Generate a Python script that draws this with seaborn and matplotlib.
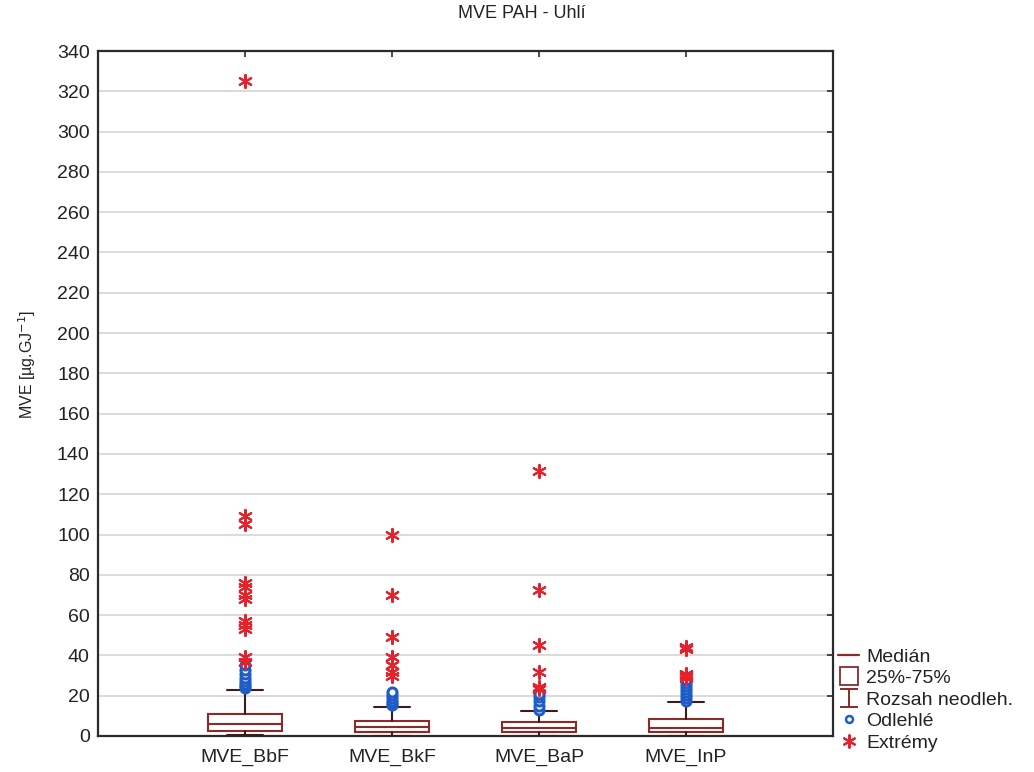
import numpy as np
import pandas as pd
import matplotlib
matplotlib.use("Agg")
import matplotlib.pyplot as plt
from matplotlib.lines import Line2D
from matplotlib.path import Path
import seaborn as sns

# ---- data -------------------------------------------------------------
categories = ["MVE_BbF", "MVE_BkF", "MVE_BaP", "MVE_InP"]

whisker_low = [0.3, 0.2, 0.2, 0.2]
q1 = [2.6, 1.8, 1.8, 1.8]
median = [5.9, 4.3, 4.1, 4.1]
q3 = [10.9, 7.6, 6.8, 8.4]
whisker_high = [22.8, 14.5, 12.6, 16.7]

outliers_bbf = [24, 25, 26, 27.5, 29, 31, 33, 35]
outliers_bkf = [15.5, 16.5, 17.5, 19, 20.5, 22]
outliers_bap = [13, 15, 17.5, 19.5, 21]
outliers_inp = [17.5, 19, 20.5, 22, 23.5, 25, 26.5, 28]

extremes_bbf = [325, 109, 105, 76, 74, 70, 68, 57, 55, 53, 39, 36.5]
extremes_bkf = [100, 70, 49, 39, 35, 32, 30]
extremes_bap = [131.5, 72.5, 45, 32, 24.5, 23.5]
extremes_inp = [44, 43, 31, 30, 29]

y_ticks = list(range(0, 341, 20))

title = "MVE PAH - Uhlí"
y_label = "MVE [µg.GJ$^{-1}$]"
legend_labels = ["Medián", "25%-75%", "Rozsah neodleh.", "Odlehlé", "Extrémy"]

# ---- styling ----------------------------------------------------------
sns.set_style("white")
plt.rcParams["font.family"] = ["Liberation Sans", "DejaVu Sans"]
narrow = ["Liberation Sans Narrow", "Liberation Sans", "DejaVu Sans"]

BOX_C = "#8c2a2a"
WHISK_C = "#3a1c1c"
OUT_C = "#1f5cc8"
EXT_C = "#e3222b"
GRID_C = "#d4d4d4"
SPINE_C = "#2b2b2b"
FS = 14

fig = plt.figure(figsize=(10.34, 7.72), dpi=100)
ax = fig.add_axes([98 / 1034, 36 / 772, 735 / 1034, 685 / 772])

# ---- point layers (seaborn) ------------------------------------------
def long_frame(groups):
    rows = []
    for cat, vals in zip(categories, groups):
        rows += [(cat, v) for v in vals]
    return pd.DataFrame(rows, columns=["kat", "hodnota"])

df_out = long_frame([outliers_bbf, outliers_bkf, outliers_bap, outliers_inp])
df_ext = long_frame([extremes_bbf, extremes_bkf, extremes_bap, extremes_inp])

sns.stripplot(data=df_out, x="kat", y="hodnota", order=categories, jitter=False,
              marker="o", size=6.5, color="white", edgecolor=OUT_C, linewidth=2.2,
              ax=ax, zorder=4)
asterisk = (6, 2, 0)
sns.stripplot(data=df_ext, x="kat", y="hodnota", order=categories, jitter=False,
              marker=asterisk, size=9.5, color=EXT_C, edgecolor=EXT_C, linewidth=1.5,
              ax=ax, zorder=5)

# ---- boxes ------------------------------------------------------------
stats = [dict(whislo=lo, q1=a, med=m, q3=b, whishi=hi, fliers=[])
         for lo, a, m, b, hi in zip(whisker_low, q1, median, q3, whisker_high)]
ax.bxp(stats, positions=range(len(categories)), widths=0.51, patch_artist=True,
       showfliers=False, manage_ticks=False,
       boxprops=dict(facecolor="white", edgecolor=BOX_C, linewidth=1.5),
       medianprops=dict(color=BOX_C, linewidth=1.5),
       whiskerprops=dict(color=WHISK_C, linewidth=1.5),
       capprops=dict(color=WHISK_C, linewidth=1.5), capwidths=0.25,
       zorder=3)

# ---- axes -------------------------------------------------------------
ax.set_xlim(-1, len(categories))
ax.set_ylim(0, 340)
ax.set_yticks(y_ticks)
ax.set_xticks(range(len(categories)))
ax.set_xticklabels(categories)
ax.set_xlabel("")
ax.set_ylabel("")
ax.yaxis.grid(True, color=GRID_C, linewidth=1.2)
ax.xaxis.grid(False)
ax.set_axisbelow(True)
for s in ax.spines.values():
    s.set_visible(True)
    s.set_color(SPINE_C)
    s.set_linewidth(1.6)
ax.tick_params(axis="both", direction="in", length=4, width=1.2, color=SPINE_C,
               top=True, right=True, labelsize=FS, labelcolor="#222222", pad=6)
ax.tick_params(axis="x", pad=9)

fig.text(522 / 1034, 1 - 13 / 772, title, ha="center", va="center",
         fontsize=13, family=narrow, color="#222222")
fig.text(27 / 1034, 1 - 364 / 772, y_label, ha="center", va="center",
         rotation=90, fontsize=11.5, family=narrow, color="#222222")

# ---- legend -----------------------------------------------------------
ibeam = Path([(-1, 1), (1, 1), (0, 1), (0, -1), (-1, -1), (1, -1)],
             [Path.MOVETO, Path.LINETO, Path.MOVETO, Path.LINETO, Path.MOVETO, Path.LINETO])
handles = [
    Line2D([], [], color=BOX_C, linewidth=1.6),
    Line2D([], [], linestyle="none", marker="s", markersize=13,
           markerfacecolor="white", markeredgecolor=BOX_C, markeredgewidth=1.3),
    Line2D([], [], linestyle="none", marker=ibeam, markersize=13,
           markerfacecolor="none", markeredgecolor=BOX_C, markeredgewidth=1.4),
    Line2D([], [], linestyle="none", marker="o", markersize=5,
           markerfacecolor="white", markeredgecolor=OUT_C, markeredgewidth=1.8),
    Line2D([], [], linestyle="none", marker=asterisk, markersize=10,
           markerfacecolor=EXT_C, markeredgecolor=EXT_C, markeredgewidth=1.5),
]
fig.legend(handles, legend_labels, loc="upper left",
           bbox_to_anchor=(838 / 1034, 1 - 648 / 772), frameon=False,
           fontsize=FS, handlelength=1.1, handletextpad=0.35, labelspacing=0.2,
           borderpad=0, borderaxespad=0, labelcolor="#222222")

fig.savefig("out.png", dpi=100, facecolor="white")
